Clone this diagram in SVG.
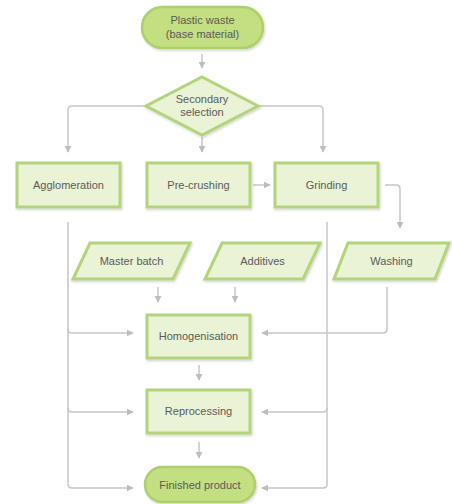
<svg xmlns="http://www.w3.org/2000/svg" width="452" height="504" viewBox="0 0 452 504">
<defs>
<marker id="ah" viewBox="0 0 10 10" refX="9" refY="5" markerWidth="7" markerHeight="7" markerUnits="userSpaceOnUse" orient="auto">
<path d="M0 0 L10 5 L0 10 z" fill="#bdbdbd"/>
</marker>
<filter id="sh" x="-10%" y="-10%" width="125%" height="130%">
<feDropShadow dx="1" dy="1.5" stdDeviation="1.2" flood-color="#000" flood-opacity="0.18"/>
</filter>
<style>
.box{fill:#eaf3d6;stroke:#b3d47a;stroke-width:3;filter:url(#sh)}
.term{fill:#c4de82;stroke:#add068;stroke-width:2.5;filter:url(#sh)}
.t{font-family:"Liberation Sans",Arial,sans-serif;font-size:11px;fill:#5a5a5a;text-anchor:middle}
.c{fill:none;stroke:#c6c6c6;stroke-width:1.5}
.a{marker-end:url(#ah)}
</style>
</defs>
<rect width="452" height="504" fill="#fff"/>
<g id="connectors">
<path class="c a" d="M202 54 V68"/>
<path class="c a" d="M146 106 H72 Q68 106 68 110 V152"/>
<path class="c a" d="M202 137 V152"/>
<path class="c a" d="M258 106 H319 Q323 106 323 110 V152"/>
<path class="c a" d="M253 185 H270"/>
<path class="c a" d="M385 185 H396 Q400 185 400 189 V228"/>
<path class="c a" d="M158 287 V302"/>
<path class="c a" d="M235 287 V302"/>
<path class="c a" d="M68 222 V484 Q68 488 72 488 H133"/>
<path class="c a" d="M68 329 Q68 333 72 333 H133"/>
<path class="c a" d="M68 408 Q68 412 72 412 H133"/>
<path class="c a" d="M327 222 V484 Q327 488 323 488 H262"/>
<path class="c a" d="M327 408 Q327 412 323 412 H262"/>
<path class="c a" d="M387 287 V329 Q387 333 383 333 H262"/>
<path class="c a" d="M199 365 V380"/>
<path class="c a" d="M199 442 V458"/>
</g>
<g id="plastic-waste">
<rect class="term" x="142" y="7" width="121" height="41" rx="20.5"/>
<text class="t" x="202.5" y="24">Plastic waste</text>
<text class="t" x="202.5" y="38">(base material)</text>
</g>
<g id="secondary-selection">
<polygon class="box" points="202,77 258,106 202,135 146,106"/>
<text class="t" x="202" y="103">Secondary</text>
<text class="t" x="202" y="116">selection</text>
</g>
<g id="agglomeration">
<rect class="box" x="17" y="163" width="103" height="44"/>
<text class="t" x="68.5" y="189">Agglomeration</text>
</g>
<g id="pre-crushing">
<rect class="box" x="147" y="163" width="103" height="44"/>
<text class="t" x="198.5" y="189">Pre-crushing</text>
</g>
<g id="grinding">
<rect class="box" x="275" y="163" width="103" height="44"/>
<text class="t" x="326.5" y="189">Grinding</text>
</g>
<g id="master-batch">
<polygon class="box" points="90,243 190,243 173,279 73,279"/>
<text class="t" x="131.5" y="265">Master batch</text>
</g>
<g id="additives">
<polygon class="box" points="222,243 320,243 303,279 205,279"/>
<text class="t" x="262.5" y="265">Additives</text>
</g>
<g id="washing">
<polygon class="box" points="348,243 449,243 435,279 334,279"/>
<text class="t" x="391.5" y="265">Washing</text>
</g>
<g id="homogenisation">
<rect class="box" x="147" y="315" width="103" height="43"/>
<text class="t" x="198.5" y="340">Homogenisation</text>
</g>
<g id="reprocessing">
<rect class="box" x="147" y="390" width="103" height="43"/>
<text class="t" x="198.5" y="415">Reprocessing</text>
</g>
<g id="finished-product">
<rect class="term" x="145" y="467" width="110" height="35" rx="17.5"/>
<text class="t" x="200" y="488.5">Finished product</text>
</g>
</svg>
